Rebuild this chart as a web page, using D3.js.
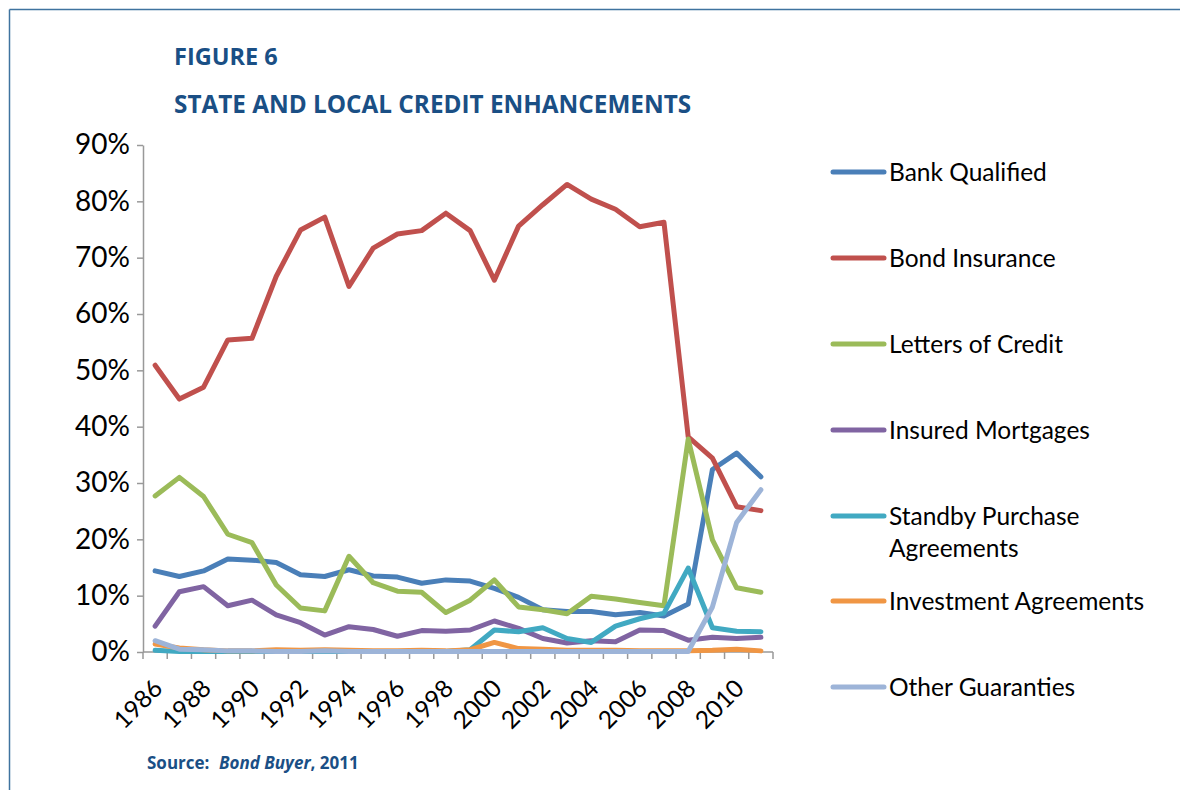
<!DOCTYPE html>
<html><head><meta charset="utf-8">
<script src="https://cdn.jsdelivr.net/npm/d3@7"></script>
<style>body{margin:0;background:#fff}svg{display:block}</style>
</head><body>
<svg id="c" width="1180" height="790"></svg>
<script>
const years = [1986,1987,1988,1989,1990,1991,1992,1993,1994,1995,1996,1997,1998,1999,2000,2001,2002,2003,2004,2005,2006,2007,2008,2009,2010,2011];
const yTicks = [0,10,20,30,40,50,60,70,80,90];
const xTickLabels = [1986,1988,1990,1992,1994,1996,1998,2000,2002,2004,2006,2008,2010];
const bankQualified = [14.4,13.4,14.4,16.5,16.3,15.9,13.7,13.4,14.6,13.5,13.3,12.2,12.8,12.6,11.3,9.7,7.5,7.2,7.2,6.6,7.0,6.4,8.5,32.4,35.3,31.1];
const bondInsurance = [50.9,44.9,47.0,55.4,55.7,66.7,74.9,77.2,64.9,71.7,74.2,74.8,77.9,74.8,66.0,75.6,79.4,83.0,80.4,78.6,75.5,76.3,38.2,34.4,25.8,25.1];
const lettersOfCredit = [27.7,31.0,27.6,20.9,19.4,11.9,7.8,7.3,17.0,12.3,10.8,10.6,7.0,9.2,12.8,8.0,7.5,6.8,9.9,9.4,8.8,8.2,37.8,19.9,11.4,10.6];
const insuredMortgages = [4.6,10.7,11.6,8.2,9.2,6.6,5.2,3.0,4.5,4.0,2.8,3.8,3.7,3.9,5.5,4.2,2.4,1.6,2.0,1.8,3.9,3.8,2.1,2.6,2.4,2.6];
const standbyPurchase = [0.3,0.1,0.1,0.1,0.1,0.1,0.1,0.1,0.1,0.1,0.1,0.1,0.1,0.4,3.9,3.6,4.3,2.4,1.7,4.6,5.9,6.9,14.9,4.3,3.7,3.6];
const investmentAgreements = [1.4,0.7,0.4,0.2,0.2,0.4,0.3,0.4,0.3,0.2,0.2,0.3,0.2,0.4,1.7,0.6,0.5,0.3,0.3,0.3,0.2,0.2,0.2,0.3,0.5,0.2];
const otherGuaranties = [2.0,0.5,0.4,0.2,0.2,0.1,0.1,0.2,0.1,0.1,0.1,0.1,0.1,0.1,0.1,0.1,0.1,0.1,0.1,0.1,0.1,0.1,0.1,8.0,23.0,28.8];
const seriesNames = ["Bank Qualified","Bond Insurance","Letters of Credit","Insured Mortgages","Standby Purchase Agreements","Investment Agreements","Other Guaranties"];
const seriesColors = ["#4a7fb8","#c0504d","#9bbb59","#8064a2","#41a9c2","#f09644","#9db4d8"];
const seriesData = [bankQualified,bondInsurance,lettersOfCredit,insuredMortgages,standbyPurchase,investmentAgreements,otherGuaranties];

const svg = d3.select("#c");
const font = "Lato, 'Open Sans', sans-serif";
const titleColor = "#1a4f85";

// frame
svg.append("line").attr("x1",9.5).attr("y1",9.5).attr("x2",1180).attr("y2",9.5).attr("stroke","#3f739f").attr("stroke-width",1.5);
svg.append("line").attr("x1",9.5).attr("y1",9.5).attr("x2",9.5).attr("y2",790).attr("stroke","#3f739f").attr("stroke-width",1.5);

svg.append("text").attr("x",174).attr("y",65).text("FIGURE 6")
  .attr("font-family","'Open Sans', sans-serif").attr("font-weight","bold").attr("font-size",23.5).attr("fill",titleColor);
svg.append("text").attr("x",174).attr("y",113).text("STATE AND LOCAL CREDIT ENHANCEMENTS")
  .attr("font-family","'Open Sans', sans-serif").attr("font-weight","bold").attr("font-size",24.3).attr("fill",titleColor);

const src = svg.append("text").attr("x",147).attr("y",769).attr("font-family","'Open Sans', sans-serif")
  .attr("font-weight","bold").attr("font-size",17).attr("fill",titleColor);
src.append("tspan").text("Source:");
src.append("tspan").attr("x",219).attr("font-style","italic").text("Bond Buyer");
src.append("tspan").text(", 2011");

const x = d3.scaleBand().domain(years).range([143,773]);
const y = d3.scaleLinear().domain([0,90]).range([652,145]);

// y axis
const yAxis = svg.append("g").attr("transform","translate(143,0)")
  .call(d3.axisLeft(y).tickValues(yTicks).tickFormat(d=>d+"%").tickSize(6).tickSizeOuter(0));
yAxis.select(".domain").attr("stroke","#999").attr("stroke-width",1.5);
yAxis.selectAll(".tick line").attr("stroke","#999").attr("stroke-width",1.5);
yAxis.selectAll(".tick text").attr("font-family",font).attr("font-size",28).attr("fill","#000").attr("x",-13);

// x axis
const xAxis = svg.append("g").attr("transform","translate(0,652)");
xAxis.append("line").attr("x1",143).attr("x2",773).attr("y1",0).attr("y2",0).attr("stroke","#999").attr("stroke-width",1.5);
const bounds = years.map(d=>x(d)).concat([x(years[years.length-1])+x.bandwidth()]);
xAxis.selectAll(".xt").data(bounds).join("line").attr("class","xt")
  .attr("x1",d=>d).attr("x2",d=>d).attr("y1",0).attr("y2",7).attr("stroke","#999").attr("stroke-width",1.5);
xAxis.selectAll(".xl").data(xTickLabels).join("text").attr("class","xl")
  .attr("transform",d=>`translate(${x(d)+x.bandwidth()/2+9},${38}) rotate(-45)`)
  .attr("text-anchor","end")
  .attr("font-family",font).attr("font-size",24.5).attr("fill","#000").text(d=>d);

// lines
const line = d3.line().x((d,i)=>x(years[i])+x.bandwidth()/2).y(d=>y(d));
seriesData.forEach((s,k)=>{
  svg.append("path").datum(s).attr("d",line).attr("fill","none")
    .attr("stroke",seriesColors[k]).attr("stroke-width",5).attr("stroke-linejoin","round").attr("stroke-linecap","round");
});

// legend
const legY = [172,258,344,430,516,601,687];
seriesNames.forEach((n,k)=>{
  const g = svg.append("g").attr("transform",`translate(0,${legY[k]})`);
  g.append("line").attr("x1",833).attr("x2",884).attr("y1",0).attr("y2",0)
    .attr("stroke",seriesColors[k]).attr("stroke-width",5).attr("stroke-linecap","round");
  const t = g.append("text").attr("x",889).attr("y",0).attr("dy","0.35em")
    .attr("font-family",font).attr("font-size",24.5).attr("fill","#000");
  if (n === "Standby Purchase Agreements") {
    t.append("tspan").attr("x",889).text("Standby Purchase");
    t.append("tspan").attr("x",889).attr("dy",32).text("Agreements");
  } else t.text(n);
});
</script>
</body></html>
